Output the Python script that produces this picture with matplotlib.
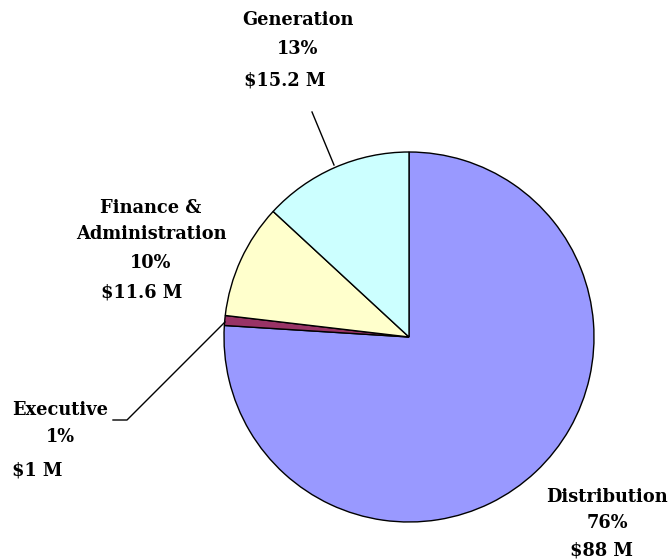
import matplotlib.pyplot as plt

plt.rcParams['font.family'] = ['DejaVu Serif']

# data
divisions = ['Distribution', 'Executive', 'Finance &\nAdministration', 'Generation']
budget = [88, 1, 11.6, 15.2]          # $ millions
percents = ['76%', '1%', '10%', '13%']
money = ['$88 M', '$1 M', '$11.6 M', '$15.2 M']
colors = ['#9999FF', '#993366', '#FFFFCC', '#CCFFFF']

W, H = 672, 560
fig = plt.figure(figsize=(W / 100, H / 100), dpi=100)
ax = fig.add_axes([0, 0, 1, 1])

cx, cy, r = 409, H - 337, 185
ax.pie(budget, colors=colors, startangle=90, counterclock=False,
       center=(cx, cy), radius=r, frame=True,
       wedgeprops=dict(edgecolor='black', linewidth=1.0))
ax.set_xlim(0, W)
ax.set_ylim(0, H)
ax.axis('off')

fs = 12.8
kw = dict(fontsize=fs, fontweight='bold', ha='center', va='center', color='black')

def label(i, x, y, gap=28, xm=None, mgap=None):
    # name, percent, money stacked in pixel coords (y from top)
    name_lines = divisions[i].count('\n') + 1
    ax.text(x, H - y - (name_lines - 1) * gap / 2, divisions[i], linespacing=1.6, **kw)
    y0 = y + (name_lines - 1) * gap + gap
    ax.text(x, H - y0, percents[i], **kw)
    ax.text(xm if xm else x, H - (y0 + (mgap or gap + 2)), money[i], **kw)

label(3, 298, 20, gap=29, xm=285)
label(2, 151, 207, gap=28, xm=142)
label(1, 60, 410, gap=27, xm=37, mgap=33)
label(0, 607, 497, gap=26, xm=602)

# leader lines
ax.plot([312, 334], [H - 112, H - 165], color='black', lw=1)
ax.plot([113, 127, 225], [H - 420, H - 420, H - 322], color='black', lw=1)

fig.savefig('out.png', dpi=100)
